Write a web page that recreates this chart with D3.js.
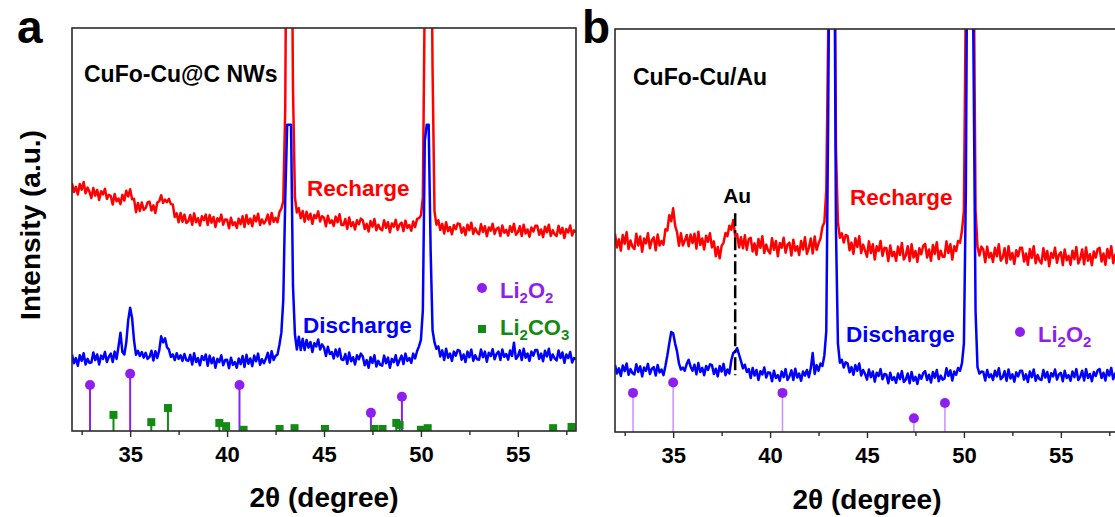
<!DOCTYPE html>
<html>
<head>
<meta charset="utf-8">
<script src="https://cdn.jsdelivr.net/npm/d3@7"></script>
<style>
  html, body { margin: 0; padding: 0; background: #fff; }
  svg text { font-family: "Liberation Sans", Arial, sans-serif; font-weight: bold; }
</style>
</head>
<body>
<svg id="chart" width="1115" height="517"></svg>
<script>
// 2theta scan, 32..58 deg, 0.1 deg step
var twoTheta = d3.range(0, 261).map(function(i) { return Math.round((32 + i * 0.1) * 10) / 10; });

// panel a: CuFo-Cu@C NWs
var aRecharge = [
  61.5, 59.3, 60.6, 58.7, 61.3, 59.9, 61.8, 59.0, 60.4, 59.4,
  57.8, 60.3, 58.4, 59.8, 57.3, 59.5, 58.7, 60.1, 57.6, 58.6,
  58.3, 56.2, 58.8, 57.0, 57.7, 56.3, 58.6, 57.2, 59.6, 58.2,
  60.0, 57.5, 57.6, 54.3, 56.6, 54.6, 56.7, 54.9, 55.3, 56.7,
  56.9, 54.7, 56.0, 54.1, 56.7, 57.0, 58.5, 56.6, 57.4, 56.8,
  57.6, 56.3, 56.2, 53.1, 54.0, 51.8, 54.1, 51.9, 53.7, 51.6,
  52.1, 53.6, 51.2, 54.0, 51.8, 52.8, 51.0, 53.3, 52.3, 53.7,
  51.1, 53.6, 51.7, 53.1, 50.6, 52.8, 52.0, 53.7, 51.2, 52.5,
  52.4, 50.3, 52.9, 51.1, 51.8, 50.4, 52.7, 51.3, 53.3, 50.6,
  53.6, 51.4, 52.7, 50.8, 53.4, 52.0, 53.9, 51.1, 52.5, 51.5,
  52.2, 53.7, 51.3, 54.1, 51.9, 52.9, 51.8, 54.3, 55.2, 57.0,
  80, 160, 172, 150, 85, 58.0, 54.2, 55.3, 52.8, 54.6,
  51.9, 54.4, 52.5, 53.9, 51.4, 53.6, 52.8, 54.5, 52.0, 53.3,
  52.9, 50.8, 53.4, 51.6, 52.3, 50.9, 53.2, 51.8, 53.8, 51.1,
  51.1, 52.6, 50.2, 53.0, 50.8, 51.8, 50.0, 52.3, 51.3, 52.7,
  52.3, 50.1, 51.4, 49.5, 52.1, 50.7, 52.6, 49.8, 51.2, 50.2,
  49.8, 52.3, 50.4, 51.8, 49.3, 51.5, 50.7, 52.4, 49.9, 51.2,
  51.7, 49.6, 52.2, 50.4, 51.1, 49.7, 52.0, 50.6, 52.6, 52.8,
  53.5, 58, 110, 175, 170, 150, 90, 54.5, 51.2, 52.3,
  49.9, 51.4, 49.0, 51.8, 49.6, 50.6, 48.8, 51.1, 50.1, 51.5,
  51.4, 49.2, 50.5, 48.6, 51.2, 49.8, 51.7, 48.9, 50.3, 49.3,
  48.8, 51.3, 49.4, 50.8, 48.3, 50.5, 49.7, 51.4, 48.9, 50.2,
  50.5, 48.4, 51.0, 49.2, 49.9, 48.5, 50.8, 49.4, 51.4, 48.7,
  49.3, 50.8, 48.4, 51.2, 49.0, 50.0, 48.2, 50.5, 49.5, 50.9,
  50.9, 48.7, 50.0, 48.1, 50.7, 49.3, 51.2, 48.4, 49.8, 48.8,
  48.4, 50.9, 49.0, 50.4, 47.9, 50.1, 49.3, 51.0, 48.5, 49.8,
  49.3
];
var aDischarge = [
  19.0, 16.8, 18.1, 16.2, 18.8, 17.4, 19.3, 16.5, 17.9, 16.9,
  17.0, 19.5, 17.6, 19.0, 16.5, 18.7, 17.9, 19.6, 17.1, 18.4,
  19.2, 17.1, 19.7, 17.9, 21.0, 24.4, 19.6, 19.0, 22.0, 27.5,
  30.6, 28.0, 22.5, 18.9, 19.9, 18.6, 19.6, 18.2, 19.4, 17.9,
  18.4, 19.9, 17.5, 19.8, 18.1, 20.0, 23.5, 22.0, 23.0, 20.8,
  20.2, 18.4, 19.0, 17.6, 19.3, 17.9, 18.8, 17.4, 19.1, 17.6,
  17.4, 18.9, 16.5, 19.3, 17.1, 18.1, 16.3, 18.6, 17.6, 19.0,
  16.2, 18.7, 16.8, 18.2, 15.7, 17.9, 17.1, 18.8, 16.3, 17.6,
  17.7, 15.6, 18.2, 16.4, 17.1, 15.7, 18.0, 16.6, 18.6, 15.9,
  18.9, 16.7, 18.0, 16.1, 18.7, 17.3, 19.2, 16.4, 17.8, 16.8,
  17.9, 19.4, 17.0, 19.8, 17.6, 18.6, 19.0, 21.4, 24.4, 32.6,
  57.5, 76, 76, 76, 36, 24.0, 20.2, 23.4, 20.1, 22.9,
  20.1, 22.6, 20.7, 22.1, 19.6, 21.8, 21.0, 22.7, 20.2, 21.5,
  20.7, 18.6, 20.9, 19.1, 19.6, 18.0, 20.2, 18.5, 20.4, 17.8,
  17.6, 19.1, 16.7, 19.5, 17.3, 18.3, 16.5, 18.8, 17.8, 19.2,
  18.5, 16.3, 17.6, 15.7, 18.3, 16.9, 18.8, 16.0, 17.4, 16.4,
  16.2, 18.7, 16.8, 18.2, 15.7, 17.9, 17.1, 18.8, 16.3, 17.6,
  18.7, 16.6, 19.2, 17.4, 18.1, 16.9, 19.2, 18.0, 19.8, 21.0,
  22.6, 30.0, 72, 76, 76, 45, 25, 22.0, 20.4, 21.0,
  18.5, 20.0, 17.6, 20.4, 18.2, 19.2, 17.4, 19.7, 18.7, 20.1,
  19.9, 17.7, 19.0, 17.1, 19.7, 18.3, 20.2, 17.4, 18.8, 17.8,
  17.7, 20.2, 18.3, 19.7, 17.2, 19.4, 18.6, 20.3, 17.8, 19.1,
  19.7, 17.6, 20.2, 18.4, 19.1, 17.7, 20.0, 18.6, 21.9, 17.9,
  18.5, 20.0, 17.6, 20.4, 18.2, 19.2, 17.4, 19.7, 18.7, 20.1,
  20.1, 17.9, 19.2, 17.3, 19.9, 18.5, 20.4, 17.6, 19.0, 18.0,
  17.5, 20.0, 18.1, 19.5, 16.9, 19.0, 18.1, 19.6, 17.0, 18.1,
  17.8
];

// panel b: CuFo-Cu/Au
var bRecharge = [
  49.2, 45.8, 47.8, 45.0, 48.9, 46.7, 49.6, 45.4, 47.5, 46.0,
  45.4, 49.2, 46.3, 48.5, 44.7, 48.0, 46.8, 49.3, 45.6, 47.6,
  48.3, 45.1, 49.0, 46.3, 47.4, 46.5, 50.3, 50.0, 53.8, 52.3,
  55.5, 51.2, 49.6, 46.2, 49.3, 46.3, 47.5, 48.9, 46.1, 49.0,
  46.9, 49.2, 45.5, 49.7, 46.4, 48.0, 45.3, 48.7, 47.2, 49.3,
  45.8, 47.3, 43.6, 45.9, 43.1, 46.2, 47.0, 49.4, 48.6, 51.2,
  50.2, 52.6, 48.6, 49.1, 45.8, 48.3, 45.6, 48.8, 45.2, 47.9,
  48.2, 44.8, 46.8, 44.0, 47.9, 45.7, 48.6, 44.4, 46.5, 45.0,
  44.3, 48.1, 45.2, 47.4, 43.6, 46.9, 45.7, 48.2, 44.5, 46.5,
  47.0, 43.8, 47.7, 45.0, 46.1, 43.9, 47.4, 45.3, 48.3, 44.2,
  45.7, 48.0, 44.3, 48.5, 45.2, 46.8, 48.0, 50.9, 52.0, 60.0,
  100, 160, 170, 150, 70, 52.0, 48.2, 49.3, 47.0, 48.9,
  48.6, 45.1, 47.0, 44.2, 48.1, 45.9, 48.6, 44.4, 46.5, 45.0,
  43.5, 47.3, 44.4, 46.6, 42.8, 46.1, 44.9, 47.4, 43.7, 45.7,
  45.6, 42.4, 46.3, 43.6, 44.7, 42.5, 46.0, 43.9, 46.9, 42.8,
  43.8, 46.1, 42.4, 46.6, 43.3, 44.9, 42.2, 45.6, 44.1, 46.2,
  46.7, 43.3, 45.3, 42.5, 46.4, 44.2, 47.1, 42.9, 45.0, 43.5,
  43.5, 47.3, 44.4, 46.6, 42.8, 46.1, 44.9, 47.4, 47.0, 50.0,
  55, 110, 170, 175, 170, 120, 55, 46.0, 43.8, 46.0,
  45.3, 42.1, 46.0, 43.3, 44.4, 42.2, 45.7, 43.6, 46.6, 42.5,
  43.3, 45.6, 41.9, 46.1, 42.8, 44.4, 41.7, 45.1, 43.6, 45.7,
  45.7, 42.3, 44.3, 41.5, 45.4, 43.2, 46.1, 41.9, 44.0, 42.5,
  41.8, 45.6, 42.7, 44.9, 41.1, 44.4, 43.2, 45.7, 42.0, 44.0,
  44.6, 41.4, 45.3, 42.6, 43.7, 41.5, 45.0, 42.9, 45.9, 41.8,
  43.0, 45.3, 41.6, 45.8, 42.5, 44.1, 41.4, 44.8, 43.3, 45.4,
  45.7, 42.3, 44.3, 41.5, 45.4, 43.2, 46.1, 41.9, 44.0, 42.5,
  43.4
];
var bDischarge = [
  16.7, 14.5, 15.8, 13.9, 16.5, 15.1, 17.0, 14.2, 15.6, 14.6,
  14.3, 16.8, 14.9, 16.3, 13.8, 16.0, 15.2, 16.9, 14.4, 15.7,
  16.1, 14.0, 16.6, 14.8, 15.5, 14.1, 16.4, 19.0, 22.0, 24.8,
  24.5, 22.0, 20.0, 17.0, 15.5, 16.0, 15.2, 16.9, 17.9, 16.2,
  15.2, 16.7, 14.3, 17.1, 14.9, 15.9, 14.1, 16.4, 15.4, 16.8,
  16.6, 14.4, 15.7, 13.8, 16.4, 15.0, 16.9, 14.1, 15.5, 14.5,
  17.8, 19.6, 20.0, 20.8, 19.2, 17.6, 15.8, 16.7, 14.9, 15.6,
  13.4, 15.9, 14.0, 15.4, 12.9, 15.1, 14.3, 16.0, 13.5, 14.8,
  14.7, 12.6, 15.2, 13.4, 14.1, 12.7, 15.0, 13.6, 15.6, 12.9,
  13.8, 15.3, 12.9, 15.7, 13.5, 14.5, 12.7, 15.0, 14.0, 15.4,
  13.6, 15.8, 19.6, 14.4, 16.6, 15.2, 17.0, 16.4, 19.0, 25.0,
  80, 150, 160, 140, 50, 22.0, 17.2, 17.9, 16.0, 17.3,
  17.0, 14.8, 16.1, 14.2, 16.6, 15.2, 17.0, 14.0, 15.4, 14.4,
  13.0, 15.5, 13.6, 15.0, 12.5, 14.7, 13.9, 15.6, 13.1, 14.4,
  14.2, 12.1, 14.7, 12.9, 13.6, 12.2, 14.5, 13.1, 15.1, 12.4,
  13.0, 14.5, 12.1, 14.9, 12.7, 13.7, 11.9, 14.2, 13.2, 14.6,
  15.1, 12.9, 14.2, 12.3, 14.9, 13.5, 15.4, 12.6, 14.0, 13.0,
  13.3, 15.8, 13.9, 15.3, 12.8, 15.0, 14.2, 15.9, 15.2, 17.1,
  22.0, 60, 150, 165, 150, 90, 30, 16.1, 14.5, 15.0,
  14.9, 12.8, 15.4, 13.6, 14.3, 12.9, 15.2, 13.8, 15.8, 13.1,
  13.6, 15.1, 12.7, 15.5, 13.3, 14.3, 12.5, 14.8, 13.8, 15.2,
  15.2, 13.0, 14.3, 12.4, 15.0, 13.6, 15.5, 12.7, 14.1, 13.1,
  12.9, 15.4, 13.5, 14.9, 12.4, 14.6, 13.8, 15.5, 13.0, 14.3,
  14.7, 12.6, 15.2, 13.4, 14.1, 12.7, 15.0, 13.6, 15.6, 12.9,
  13.7, 15.2, 12.8, 15.6, 13.4, 14.4, 12.6, 14.9, 13.9, 15.3,
  15.6, 13.4, 14.7, 12.8, 15.4, 14.0, 15.9, 13.1, 14.5, 13.5,
  14.5
];

// reference patterns (stick positions, relative heights)
var li2o2Pos = [32.93, 35.0, 40.64, 47.42, 49.02];
var aLi2o2Height = [11.4, 14.2, 11.4, 4.5, 8.5];
var bLi2o2Height = [9.7, 12.3, 9.7, 3.4, 7.2];
var li2co3Pos = [34.14, 36.09, 36.95, 39.6, 39.95, 40.85, 42.71, 43.48, 45.05, 47.6, 48.02, 48.73, 48.9, 50.0, 50.35, 56.82, 57.77];
var aLi2co3Height = [4.0, 2.2, 5.7, 2.0, 1.2, 0.3, 0.5, 0.7, 0.5, 0.5, 0.5, 2.0, 1.5, 0.3, 0.7, 0.7, 1.0];

var majorTicks = [35, 40, 45, 50, 55];
var minorTicks = [32.5, 37.5, 42.5, 47.5, 52.5, 57.5];
var auLine = { pos: 38.2, from: 14.1, to: 54.3 };

var RED = '#ff0000', BLUE = '#0000ff', PURPLE = '#8f1ff0', PURPLE_LIGHT = '#c890ff', GREEN = '#138a13';

var svg = d3.select('#chart');

function sub(sel, parts) {
  // parts: [text, isSub]
  parts.forEach(function(p) {
    var t = sel.append('tspan').text(p[0]);
    if (p[1]) t.attr('font-size', 15).attr('dy', 5);
    else if (sel.selectAll('tspan').size() > 1) t.attr('dy', -5);
  });
}

function drawPanel(p) {
  var x = d3.scaleLinear().domain([32, 58]).range([p.left, p.right]);
  var y = d3.scaleLinear().domain([0, 100]).range([p.bottom, p.top]);
  var g = svg.append('g');

  var clipId = 'clip-' + p.id;
  svg.append('clipPath').attr('id', clipId)
    .append('rect').attr('x', p.left).attr('y', p.top)
    .attr('width', p.right - p.left).attr('height', p.bottom - p.top);

  var plot = g.append('g').attr('clip-path', 'url(#' + clipId + ')');
  var line = d3.line().x(function(d) { return x(d[0]); }).y(function(d) { return y(d[1]); });

  plot.append('path').datum(d3.zip(twoTheta, p.recharge))
    .attr('d', line).attr('fill', 'none').attr('stroke', RED).attr('stroke-width', 2.5).attr('stroke-linejoin', 'round');
  plot.append('path').datum(d3.zip(twoTheta, p.discharge))
    .attr('d', line).attr('fill', 'none').attr('stroke', BLUE).attr('stroke-width', 2.5).attr('stroke-linejoin', 'round');

  // Li2O2 sticks
  var li = d3.zip(li2o2Pos, p.li2o2);
  plot.selectAll('line.li2o2').data(li).enter().append('line')
    .attr('x1', function(d) { return x(d[0]); }).attr('x2', function(d) { return x(d[0]); })
    .attr('y1', y(0)).attr('y2', function(d) { return y(d[1]); })
    .attr('stroke', p.stemColor).attr('stroke-width', p.stemWidth);
  plot.selectAll('circle.li2o2').data(li).enter().append('circle')
    .attr('cx', function(d) { return x(d[0]); }).attr('cy', function(d) { return y(d[1]); })
    .attr('r', 5).attr('fill', PURPLE);

  // Li2CO3 sticks
  if (p.li2co3) {
    var co = d3.zip(li2co3Pos, p.li2co3);
    plot.selectAll('line.li2co3').data(co).enter().append('line')
      .attr('x1', function(d) { return x(d[0]); }).attr('x2', function(d) { return x(d[0]); })
      .attr('y1', y(0)).attr('y2', function(d) { return y(d[1]); })
      .attr('stroke', GREEN).attr('stroke-width', 2);
    plot.selectAll('rect.li2co3').data(co).enter().append('rect')
      .attr('x', function(d) { return x(d[0]) - 4; }).attr('y', function(d) { return y(d[1]) - 4; })
      .attr('width', 8).attr('height', 8).attr('fill', GREEN);
  }

  if (p.au) {
    g.append('line')
      .attr('x1', x(auLine.pos)).attr('x2', x(auLine.pos))
      .attr('y1', y(auLine.to)).attr('y2', y(auLine.from))
      .attr('stroke', '#000').attr('stroke-width', 2.5).attr('stroke-dasharray', '13,4,3,4');
    g.append('text').attr('x', x(auLine.pos) + 2).attr('y', 203).attr('text-anchor', 'middle')
      .attr('font-size', 21).attr('fill', '#000').text('Au');
  }

  // frame
  g.append('rect').attr('x', p.left).attr('y', p.top)
    .attr('width', p.right - p.left).attr('height', p.bottom - p.top)
    .attr('fill', 'none').attr('stroke', '#2b2b2b').attr('stroke-width', 1.6);

  // x axis
  var ax = g.append('g').attr('transform', 'translate(0,' + p.bottom + ')')
    .call(d3.axisBottom(x).tickValues(majorTicks).tickSize(6).tickSizeOuter(0).tickPadding(9).tickFormat(d3.format('d')));
  ax.select('.domain').remove();
  ax.selectAll('line').attr('stroke', '#2b2b2b').attr('stroke-width', 1.4);
  ax.selectAll('text').attr('font-size', 22).attr('fill', '#000')
    .attr('font-family', '"Liberation Sans", Arial, sans-serif').attr('font-weight', 'bold');
  var mx = g.append('g').attr('transform', 'translate(0,' + p.bottom + ')')
    .call(d3.axisBottom(x).tickValues(minorTicks).tickSize(4).tickSizeOuter(0).tickFormat(''));
  mx.select('.domain').remove();
  mx.selectAll('line').attr('stroke', '#2b2b2b').attr('stroke-width', 1.4);

  g.append('text').attr('x', (p.left + p.right) / 2).attr('y', p.titleY)
    .attr('text-anchor', 'middle').attr('font-size', 28).attr('fill', '#000').text('2θ (degree)');

  // labels
  g.append('text').attr('x', p.nameX).attr('y', p.nameY).attr('font-size', 23).attr('fill', '#000').text(p.name);
  g.append('text').attr('x', p.rechargeX).attr('y', p.rechargeY).attr('font-size', 22.5).attr('fill', RED).text('Recharge');
  g.append('text').attr('x', p.dischargeX).attr('y', p.dischargeY).attr('font-size', 22.5).attr('fill', BLUE).text('Discharge');
  g.append('text').attr('x', p.letterX).attr('y', 43).attr('font-size', 46).attr('fill', '#000').text(p.letter);

  // legend
  g.append('circle').attr('cx', p.legX).attr('cy', p.legY1 - 10).attr('r', 5).attr('fill', PURPLE);
  sub(g.append('text').attr('x', p.legX + 18).attr('y', p.legY1).attr('font-size', 22).attr('fill', PURPLE),
    [['Li', false], ['2', true], ['O', false], ['2', true]]);
  if (p.li2co3) {
    g.append('rect').attr('x', p.legX - 4).attr('y', p.legY2 - 10).attr('width', 8).attr('height', 8).attr('fill', GREEN);
    sub(g.append('text').attr('x', p.legX + 18).attr('y', p.legY2).attr('font-size', 22).attr('fill', GREEN),
      [['Li', false], ['2', true], ['CO', false], ['3', true]]);
  }
}

drawPanel({
  id: 'a', letter: 'a', letterX: 17, left: 72, right: 576, top: 28, bottom: 431, titleY: 507,
  recharge: aRecharge, discharge: aDischarge, li2o2: aLi2o2Height, li2co3: aLi2co3Height,
  stemColor: PURPLE, stemWidth: 2,
  name: 'CuFo-Cu@C NWs', nameX: 84, nameY: 82,
  rechargeX: 307, rechargeY: 196, dischargeX: 303, dischargeY: 333,
  legX: 482, legY1: 298, legY2: 335
});

drawPanel({
  id: 'b', letter: 'b', letterX: 582, left: 615, right: 1119, top: 29, bottom: 432, titleY: 509,
  recharge: bRecharge, discharge: bDischarge, li2o2: bLi2o2Height, li2co3: null,
  stemColor: PURPLE_LIGHT, stemWidth: 1.5, au: true,
  name: 'CuFo-Cu/Au', nameX: 633, nameY: 85,
  rechargeX: 850, rechargeY: 205, dischargeX: 846, dischargeY: 342,
  legX: 1020, legY1: 342
});

svg.append('text')
  .attr('transform', 'translate(40,225) rotate(-90)')
  .attr('text-anchor', 'middle').attr('font-size', 28).attr('fill', '#000')
  .text('Intensity (a.u.)');
</script>
</body>
</html>
